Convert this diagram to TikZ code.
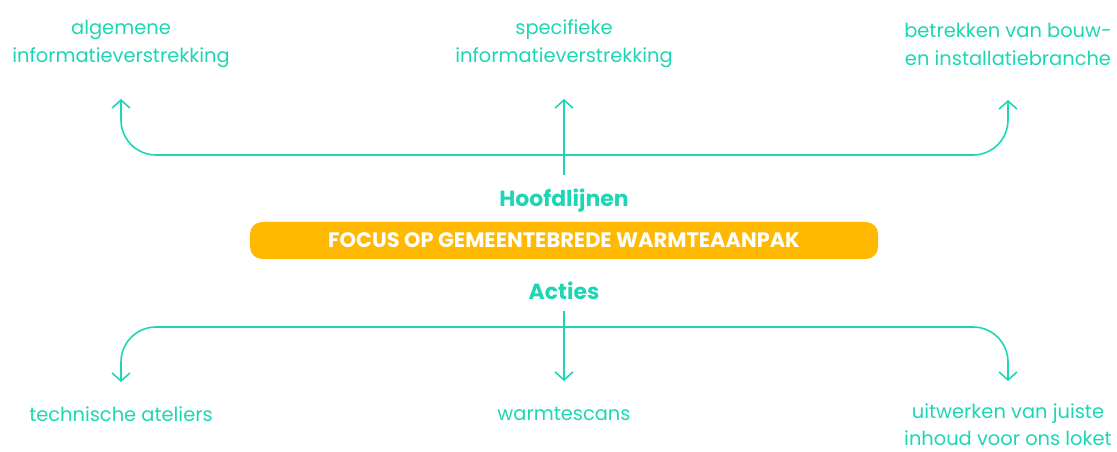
\documentclass[tikz,border=0pt]{standalone}
\usepackage{fontspec}
\setmainfont{Poppins}
\usepackage{tikz}
\usetikzlibrary{arrows.meta}
\usetikzlibrary{positioning}

\definecolor{mint}{HTML}{1DD6B4}
\definecolor{amber}{HTML}{FFB900}

\tikzset{
    label text/.style={text=mint, align=center, font=\fontsize{19.5}{28}\selectfont, inner sep=0pt},
    head text/.style={text=mint, font=\fontsize{22}{24}\bfseries\selectfont, inner sep=0pt},
    flow/.style={draw=mint, line width=1.6pt, -{Straight Barb[length=8pt,width=18pt,line width=1.6pt]}},
}

\begin{document}
\begin{tikzpicture}[x=1bp, y=1bp]
            \useasboundingbox (0,0) rectangle (1117,-452);
            % centre block
            \node[head text] (hoofd) at (564,-201) {Hoofdlijnen};
            \node[fill=amber, rounded corners=12bp, minimum width=628bp, minimum height=37bp,
                  text=white, font=\fontsize{21}{24}\bfseries\selectfont] (focus) at (564,-240.5)
                  {FOCUS OP GEMEENTEBREDE WARMTEAANPAK};
            \node[head text] (acties) at (564,-291) {Acties};

            % top row
            \node[label text] (alg) at (121,-44) {algemene\\informatieverstrekking};
            \node[label text] (spec) at (564,-44) {specifieke\\informatieverstrekking};
            \node[label text] (bouw) at (1008,-44) {betrekken van bouw-\\en installatiebranche};
            \coordinate (up) at (564,-155);

            % bottom row
            \node[label text] (atel) at (121,-414) {technische ateliers};
            \node[label text] (scan) at (564,-414) {warmtescans};
            \node[label text, font=\fontsize{19.5}{27}\selectfont] (loket) at (1008,-425) {uitwerken van juiste\\inhoud voor ons loket};
            \coordinate (down) at (564,-327);

            % arrows
            \draw[flow] (hoofd.north |- 0,-175) -- (spec.south |- 0,-99);
            \draw[flow, rounded corners=35bp] (up) -| (alg.south |- 0,-99);
            \draw[flow, rounded corners=35bp] (up) -| (bouw.south |- 0,-100);
            \draw[flow] (acties.south |- 0,-311) -- (scan.north |- 0,-381);
            \draw[flow, rounded corners=35bp] (down) -| (atel.north |- 0,-382);
            \draw[flow, rounded corners=35bp] (down) -| (loket.north |- 0,-381);
\end{tikzpicture}
\end{document}
